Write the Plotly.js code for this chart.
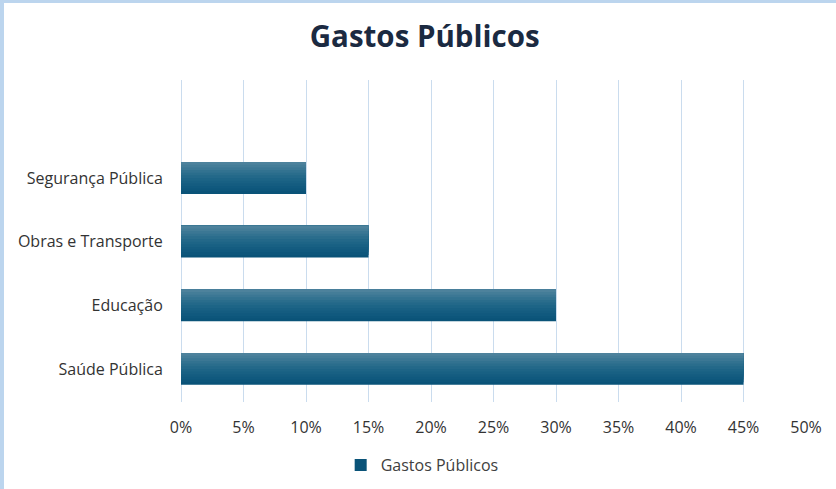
<!DOCTYPE html>
<html>
<head>
<meta charset="utf-8">
<script src="https://cdn.plot.ly/plotly-3.0.1.min.js"></script>
<style>
html,body{margin:0;padding:0;background:#fff;}
#wrap{position:relative;width:836px;height:489px;overflow:hidden;}
#chart{position:absolute;left:0;top:0;width:836px;height:489px;}
#bt{position:absolute;left:0;top:0;width:836px;height:3px;background:#bcd5ee;}
#bl{position:absolute;left:0;top:0;width:4px;height:489px;background:#bcd5ee;}
</style>
</head>
<body>
<div id="wrap"><div id="chart"></div><div id="bt"></div><div id="bl"></div></div>
<script>
const categories = ["Saúde Pública", "Educação", "Obras e Transporte", "Segurança Pública"];
const values = [0.45, 0.30, 0.15, 0.10];
const seriesName = "Gastos Públicos";
const tickVals = [0, 0.05, 0.10, 0.15, 0.20, 0.25, 0.30, 0.35, 0.40, 0.45, 0.50];

const font = "Open Sans, Roboto, sans-serif";
// gradient layers (bottom dark -> top light)
const layerColors = ["#0a5378","#0d567b","#10597e","#145c80","#186083","#1d6486","#236889","#2a6d8c","#327290","#3b7794","#447d98","#4d829c"];
const nL = layerColors.length;
const traces = layerColors.map((c, i) => {
  const w = 0.5 * (nL - i) / nL;
  return {
    type: "bar",
    orientation: "h",
    name: seriesName,
    y: categories,
    x: values,
    width: w,
    offset: 0.25 - w,
    marker: {color: c, line: {width: 0}},
    showlegend: i === 0,
    hoverinfo: "skip"
  };
});

const layout = {
  width: 836, height: 489,
  paper_bgcolor: "#ffffff", plot_bgcolor: "#ffffff",
  margin: {l: 181, r: 30, t: 80, b: 87},
  barmode: "overlay",
  font: {family: font, color: "#333333", size: 16},
  title: {text: "<b>Gastos Públicos</b>", font: {family: font, size: 29.5, color: "#1b2a41"},
          x: 0.508, xanchor: "center", y: 0.925, yanchor: "middle", xref: "container"},
  xaxis: {range: [0, 0.5], tickvals: tickVals, tickformat: ".0%",
          showgrid: true, gridcolor: "#cadcee", gridwidth: 1,
          zeroline: true, zerolinecolor: "#cadcee", zerolinewidth: 1,
          showline: false, ticks: "outside", ticklen: 11, tickcolor: "rgba(0,0,0,0)",
          tickfont: {size: 16, color: "#333333"}, fixedrange: true},
  yaxis: {type: "category", categoryorder: "array", categoryarray: categories,
          range: [-0.52, 4.54], showgrid: false, zeroline: false, showline: false,
          ticks: "outside", ticklen: 14, tickcolor: "rgba(0,0,0,0)",
          tickfont: {size: 16, color: "#333333"}, fixedrange: true},
  legend: {orientation: "h", x: 0.505, xanchor: "center", xref: "container",
           y: 0.049, yanchor: "middle", yref: "container",
           font: {size: 16, color: "#404040"}, itemwidth: 30},
  showlegend: true
};
Plotly.newPlot("chart", traces, layout, {displayModeBar: false, staticPlot: true});
</script>
</body>
</html>
